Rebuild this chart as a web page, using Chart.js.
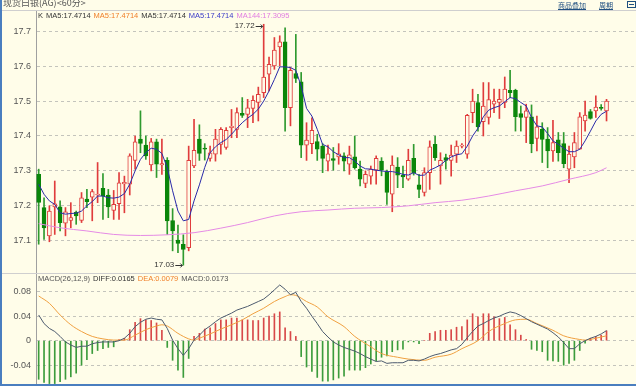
<!DOCTYPE html>
<html>
<head>
<meta charset="utf-8">
<script src="https://cdn.jsdelivr.net/npm/chart.js@4.4.0/dist/chart.umd.min.js"></script>
<style>
html, body { margin: 0; padding: 0; background: #fffde9; }
#wrap { position: relative; width: 636px; height: 386px; overflow: hidden; background: #fffde9; }
#kc { position: absolute; left: 0; top: 0; }
#mc { position: absolute; left: 0; top: 274px; }
#lb { position: absolute; left: 0; top: 0; width: 2px; height: 386px; background: #4a7ebf; }
#bb { position: absolute; left: 0; top: 384px; width: 636px; height: 2px; background: #4a7ebf; }
</style>
</head>
<body>
<div id="wrap">
  <canvas id="kc" width="636" height="274"></canvas>
  <canvas id="mc" width="636" height="112"></canvas>
  <div id="lb"></div>
  <div id="bb"></div>
</div>
<script>
// 60 minute candles
const open = [17.29,17.195,17.114,17.197,17.197,17.15,17.158,17.181,17.158,17.219,
  17.225,17.231,17.25,17.231,17.187,17.206,17.263,17.262,17.33,17.391,
  17.374,17.317,17.383,17.317,17.33,17.158,17.102,17.09,17.08,17.314,
  17.391,17.365,17.336,17.348,17.376,17.367,17.424,17.419,17.465,17.462,
  17.479,17.496,17.524,17.577,17.601,17.655,17.67,17.481,17.579,17.555,
  17.374,17.378,17.384,17.371,17.328,17.335,17.34,17.343,17.319,17.34,
  17.305,17.264,17.285,17.302,17.328,17.297,17.233,17.311,17.288,17.276,
  17.336,17.26,17.238,17.295,17.376,17.314,17.338,17.33,17.348,17.371,
  17.348,17.467,17.496,17.441,17.453,17.491,17.496,17.496,17.531,17.531,
  17.464,17.453,17.455,17.393,17.419,17.391,17.357,17.389,17.378,17.305,
  17.34,17.362,17.443,17.47,17.472,17.481,17.472];
const high = [17.305,17.223,17.2,17.271,17.214,17.195,17.209,17.185,17.238,17.247,
  17.247,17.324,17.292,17.247,17.244,17.295,17.285,17.349,17.4,17.472,
  17.4,17.393,17.391,17.391,17.338,17.192,17.145,17.117,17.371,17.448,
  17.432,17.378,17.371,17.419,17.424,17.424,17.476,17.481,17.51,17.505,
  17.515,17.54,17.72,17.626,17.682,17.687,17.71,17.596,17.691,17.582,
  17.438,17.452,17.405,17.378,17.374,17.367,17.378,17.352,17.371,17.4,
  17.328,17.3,17.314,17.343,17.338,17.302,17.343,17.338,17.314,17.362,
  17.376,17.29,17.309,17.386,17.4,17.352,17.348,17.374,17.386,17.378,
  17.462,17.534,17.519,17.553,17.553,17.534,17.534,17.569,17.588,17.534,
  17.486,17.491,17.489,17.457,17.438,17.424,17.445,17.41,17.41,17.371,
  17.41,17.467,17.5,17.476,17.515,17.49,17.505];
const low = [17.09,17.104,17.097,17.118,17.128,17.114,17.137,17.147,17.152,17.195,
  17.157,17.209,17.161,17.166,17.161,17.161,17.18,17.231,17.305,17.352,
  17.333,17.3,17.281,17.29,17.118,17.071,17.066,17.03,17.071,17.309,
  17.33,17.331,17.328,17.328,17.348,17.362,17.395,17.395,17.453,17.424,
  17.438,17.443,17.51,17.529,17.591,17.601,17.414,17.429,17.553,17.338,
  17.33,17.349,17.33,17.295,17.3,17.302,17.319,17.3,17.29,17.305,
  17.257,17.252,17.262,17.262,17.286,17.204,17.183,17.252,17.252,17.273,
  17.288,17.223,17.228,17.247,17.33,17.262,17.305,17.285,17.324,17.366,
  17.336,17.438,17.414,17.4,17.434,17.467,17.45,17.481,17.51,17.414,
  17.414,17.381,17.352,17.357,17.324,17.309,17.327,17.328,17.309,17.266,
  17.309,17.362,17.414,17.448,17.453,17.474,17.443];
const close = [17.21,17.137,17.185,17.206,17.152,17.183,17.166,17.171,17.223,17.212,
  17.241,17.233,17.228,17.197,17.204,17.266,17.267,17.343,17.383,17.379,
  17.343,17.383,17.319,17.321,17.157,17.128,17.092,17.075,17.33,17.359,
  17.35,17.362,17.352,17.391,17.419,17.416,17.428,17.467,17.459,17.481,
  17.502,17.519,17.569,17.605,17.646,17.67,17.481,17.588,17.565,17.374,
  17.388,17.416,17.362,17.336,17.349,17.33,17.349,17.328,17.346,17.309,
  17.276,17.29,17.305,17.336,17.302,17.238,17.317,17.288,17.283,17.33,
  17.295,17.247,17.295,17.369,17.338,17.33,17.33,17.345,17.371,17.371,
  17.459,17.5,17.426,17.486,17.504,17.5,17.505,17.534,17.524,17.455,
  17.453,17.472,17.378,17.426,17.39,17.357,17.381,17.352,17.321,17.348,
  17.381,17.455,17.46,17.45,17.483,17.479,17.5];

// MA5 line, read at every candle
const ma5 = [17.262,17.233,17.214,17.204,17.18,17.176,17.178,17.179,17.185,17.2,
  17.212,17.228,17.228,17.223,17.222,17.225,17.235,17.262,17.3,17.333,
  17.352,17.365,17.362,17.35,17.309,17.243,17.185,17.157,17.161,17.214,
  17.26,17.31,17.352,17.369,17.381,17.39,17.405,17.422,17.438,17.451,
  17.462,17.477,17.5,17.529,17.562,17.598,17.598,17.596,17.588,17.543,
  17.479,17.457,17.419,17.376,17.369,17.355,17.346,17.338,17.338,17.328,
  17.314,17.306,17.305,17.302,17.3,17.298,17.298,17.295,17.29,17.288,
  17.295,17.287,17.288,17.302,17.309,17.317,17.33,17.34,17.346,17.349,
  17.371,17.4,17.422,17.455,17.474,17.481,17.486,17.498,17.51,17.507,
  17.496,17.486,17.453,17.429,17.426,17.407,17.386,17.376,17.365,17.355,
  17.355,17.362,17.386,17.414,17.443,17.462,17.471];

// MA144 read at some candles only (candle number, value)
const ma144At  = [1, 5, 10, 15, 20, 25, 30, 35, 40, 45, 50, 55, 60, 65, 70, 75, 80, 85, 90, 95, 100, 105, 107];
const ma144Val = [17.149,17.137,17.128,17.118,17.115,17.117,17.123,17.136,17.152,17.171,17.183,17.188,
  17.193,17.195,17.2,17.209,17.216,17.228,17.243,17.257,17.276,17.295,17.309];

// MACD panel
const macdHist = [-0.063,-0.068,-0.07,-0.07,-0.067,-0.063,-0.059,-0.053,-0.04,-0.031,
  -0.021,-0.016,-0.013,-0.011,-0.01,0.002,0.004,0.018,0.03,0.036,
  0.034,0.033,0.029,0.017,-0.011,-0.032,-0.048,-0.06,-0.029,0.007,
  0.012,0.019,0.021,0.028,0.034,0.034,0.037,0.037,0.034,0.034,
  0.033,0.033,0.037,0.04,0.044,0.047,0.021,0.015,0.007,-0.026,
  -0.043,-0.05,-0.06,-0.066,-0.066,-0.064,-0.061,-0.058,-0.048,-0.048,
  -0.048,-0.044,-0.038,-0.033,-0.027,-0.025,-0.018,-0.015,-0.014,-0.002,
  -0.002,-0.005,0,0.012,0.015,0.017,0.017,0.018,0.022,0.023,
  0.034,0.044,0.039,0.044,0.044,0.039,0.036,0.038,0.026,0.018,
  0.009,0.002,-0.014,-0.016,-0.018,-0.032,-0.033,-0.034,-0.04,-0.037,
  -0.032,-0.016,-0.004,0.004,0.007,0.009,0.016];
const diff = [0.042,0.028,0.02,0.015,0.007,-0.002,-0.007,-0.011,-0.009,-0.009,
  -0.005,-0.003,-0.002,-0.002,-0.002,0,0.004,0.012,0.023,0.03,
  0.035,0.037,0.035,0.034,0.02,0.001,-0.013,-0.024,-0.013,0.001,
  0.009,0.018,0.024,0.031,0.037,0.041,0.045,0.05,0.053,0.056,
  0.06,0.064,0.068,0.075,0.083,0.091,0.084,0.075,0.079,0.064,
  0.053,0.04,0.028,0.015,0.006,-0.002,-0.007,-0.011,-0.014,-0.017,
  -0.021,-0.026,-0.03,-0.034,-0.033,-0.037,-0.036,-0.036,-0.036,-0.032,
  -0.032,-0.033,-0.03,-0.026,-0.023,-0.021,-0.018,-0.015,-0.013,-0.006,
  0.005,0.015,0.024,0.028,0.033,0.037,0.04,0.044,0.047,0.045,
  0.041,0.036,0.031,0.027,0.023,0.019,0.013,0.006,-0.003,-0.013,
  -0.013,-0.005,0,0.004,0.007,0.011,0.0165];
const deaAt  = [1,3,5,7,9,11,13,15,17,19,21,23,24,25,27,29,30,31,33,35,37,39,41,43,45,47,48,49,51,53,
  55,58,60,63,65,68,70,73,75,78,80,83,85,88,90,92,94,97,99,102,103,105,107];
const deaVal = [0.073,0.061,0.042,0.026,0.015,0.007,0.003,0.001,0.001,0.009,0.018,0.024,0.026,0.024,0.012,
  0.003,0.001,0.004,0.011,0.019,0.026,0.034,0.044,0.053,0.064,0.072,0.075,0.074,0.064,0.055,
  0.039,0.023,0.007,-0.01,-0.021,-0.027,-0.03,-0.032,-0.027,-0.022,-0.013,0,0.015,0.028,0.034,
  0.035,0.028,0.017,0.008,0.002,0.001,0.004,0.008];

const kTicks = [17.1, 17.2, 17.3, 17.4, 17.5, 17.6, 17.7];
const macdTicks = [-0.04, 0, 0.04, 0.08];

const title = '现货白银(AG)<60分>';
const maLabels = ['K', 'MA5:17.4714', 'MA5:17.4714', 'MA5:17.4714', 'MA5:17.4714', 'MA144:17.3095'];
const macdLabels = ['MACD(26,12,9)', 'DIFF:0.0165', 'DEA:0.0079', 'MACD:0.0173'];

const BG = '#fffde9';
const UP = '#e03c3c';
const DOWN = '#0a860a';
const GRID = '#c4c4bc';

const n = open.length;
const slots = n + 5; // empty room on the right side of the plot
const labels = Array.from({ length: slots }, (_, i) => String(i + 1));
const isUp = close.map((c, i) => c >= open[i]);

function sparse(at, vals) {
  const arr = new Array(n).fill(null);
  at.forEach((c, k) => { arr[c - 1] = vals[k]; });
  return arr;
}

function yAxis(min, max, ticks, fmt) {
  return {
    min: min, max: max,
    position: 'left',
    afterFit: s => { s.width = 36; s.paddingTop = 0; s.paddingBottom = 0; },
    afterBuildTicks: s => { s.ticks = ticks.map(v => ({ value: v })); },
    ticks: { callback: fmt, color: '#555', padding: 5, font: { size: 9, family: 'Liberation Sans' } },
    grid: { color: GRID, drawTicks: false },
    border: { display: true, color: '#a0a0a0', dash: [3, 3] }
  };
}

// draw a row of coloured texts one after another
function textRow(ctx, items, cols, x, y, gap) {
  items.forEach((t, i) => {
    ctx.fillStyle = cols[i];
    ctx.fillText(t, x, y);
    x += ctx.measureText(t).width + gap;
  });
}

function arrowMark(ctx, text, px, py) {
  ctx.textAlign = 'right';
  ctx.fillText(text, px - 9, py);
  ctx.beginPath();
  ctx.moveTo(px - 8, py + 0.5); ctx.lineTo(px - 1, py + 0.5);
  ctx.moveTo(px - 3, py - 1.5); ctx.lineTo(px - 1, py + 0.5); ctx.lineTo(px - 3, py + 2.5);
  ctx.stroke();
}

const kText = {
  id: 'kText',
  afterDraw(chart) {
    const ctx = chart.ctx;
    const x = chart.scales.x, y = chart.scales.y;
    ctx.save();
    // header strip
    ctx.fillStyle = '#555';
    ctx.font = '9px "Noto Sans CJK SC"';
    ctx.textBaseline = 'alphabetic';
    ctx.textAlign = 'left';
    ctx.fillText(title, 3, 6);
    ctx.fillStyle = '#1f4f80';
    ctx.font = '7px "Noto Sans CJK SC"';
    ctx.fillText('商品叠加', 558, 8);
    ctx.fillText('周期', 599, 8);
    ctx.strokeStyle = '#1f4f80';
    ctx.lineWidth = 1;
    ctx.beginPath();
    ctx.moveTo(558, 9.5); ctx.lineTo(586, 9.5);
    ctx.moveTo(599, 9.5); ctx.lineTo(613, 9.5);
    ctx.stroke();
    ctx.strokeRect(627.5, 1.5, 8, 6);
    ctx.beginPath();
    ctx.moveTo(629, 4.5); ctx.lineTo(634, 4.5);
    ctx.stroke();
    ctx.strokeStyle = '#cfcfcf';
    ctx.beginPath();
    ctx.moveTo(0, 10.5); ctx.lineTo(636, 10.5);
    ctx.stroke();

    // indicator legend
    ctx.font = '7.5px "Liberation Sans"';
    ctx.textBaseline = 'middle';
    textRow(ctx, maLabels, ['#333', '#333', '#f0802a', '#333', '#3a3ac8', '#e07ce0'], 38, 16, 3);

    // high / low marks
    let hi = 0, lo = 0;
    high.forEach((v, i) => { if (v > high[hi]) hi = i; });
    low.forEach((v, i) => { if (v < low[lo]) lo = i; });
    ctx.fillStyle = '#333';
    ctx.strokeStyle = '#333';
    ctx.font = '8px "Liberation Sans"';
    arrowMark(ctx, high[hi].toFixed(2), x.getPixelForValue(hi), Math.round(y.getPixelForValue(high[hi])) + 2);
    arrowMark(ctx, low[lo].toFixed(2), x.getPixelForValue(lo), Math.round(y.getPixelForValue(low[lo])));

    // panel separator
    ctx.strokeStyle = '#cfcfcf';
    ctx.beginPath();
    ctx.moveTo(0, 273.5); ctx.lineTo(636, 273.5);
    ctx.stroke();
    ctx.restore();
  }
};

const macdText = {
  id: 'macdText',
  afterDraw(chart) {
    const ctx = chart.ctx;
    ctx.save();
    ctx.font = '7.5px "Liberation Sans"';
    ctx.textBaseline = 'middle';
    ctx.textAlign = 'left';
    textRow(ctx, macdLabels, ['#555', '#333', '#f0802a', '#555'], 38, 5, 3);
    ctx.restore();
  }
};

const kChart = new Chart(document.getElementById('kc'), {
  type: 'bar',
  data: {
    labels: labels,
    datasets: [
      {
        type: 'line', label: 'MA5', data: ma5, order: 0,
        borderColor: '#2a2aa8', borderWidth: 1, pointRadius: 0, tension: 0
      },
      {
        type: 'line', label: 'MA144', data: sparse(ma144At, ma144Val), order: 1,
        borderColor: '#e58ae5', borderWidth: 1, pointRadius: 0, spanGaps: true,
        cubicInterpolationMode: 'monotone'
      },
      {
        label: 'body', data: open.map((o, i) => [o, close[i]]), order: 2,
        grouped: false, barThickness: 4, minBarLength: 1,
        borderWidth: 1, borderSkipped: false,
        backgroundColor: isUp.map(u => u ? BG : DOWN),
        borderColor: isUp.map(u => u ? UP : DOWN)
      },
      {
        label: 'wick', data: low.map((l, i) => [l, high[i]]), order: 3,
        grouped: false, barThickness: 1,
        backgroundColor: isUp.map(u => u ? UP : '#2f9a2f')
      }
    ]
  },
  options: {
    responsive: false,
    animation: false,
    devicePixelRatio: 1,
    layout: { padding: { top: 11, bottom: 2, left: 0, right: 0 } },
    plugins: { legend: { display: false }, tooltip: { enabled: false } },
    scales: {
      x: { display: false, offset: true, grid: { display: false } },
      y: yAxis(17.0104, 17.758, kTicks, v => v.toFixed(1))
    }
  },
  plugins: [kText]
});

const macdChart = new Chart(document.getElementById('mc'), {
  type: 'bar',
  data: {
    labels: labels,
    datasets: [
      {
        type: 'line', label: 'DIFF', data: diff, order: 0,
        borderColor: '#4c5a6e', borderWidth: 1, pointRadius: 0, tension: 0
      },
      {
        type: 'line', label: 'DEA', data: sparse(deaAt, deaVal), order: 1,
        borderColor: '#f0a040', borderWidth: 1, pointRadius: 0, spanGaps: true,
        cubicInterpolationMode: 'monotone'
      },
      {
        label: 'MACD', data: macdHist, order: 2, barThickness: 1,
        backgroundColor: macdHist.map(v => v >= 0 ? '#d84848' : '#3c9c3c')
      }
    ]
  },
  options: {
    responsive: false,
    animation: false,
    devicePixelRatio: 1,
    layout: { padding: { top: 0, bottom: 2, left: 0, right: 0 } },
    plugins: { legend: { display: false }, tooltip: { enabled: false } },
    scales: {
      x: { display: false, offset: true, grid: { display: false } },
      y: yAxis(-0.0707, 0.1089, macdTicks, v => v === 0 ? '0' : v.toFixed(2))
    }
  },
  plugins: [macdText]
});
</script>
</body>
</html>
